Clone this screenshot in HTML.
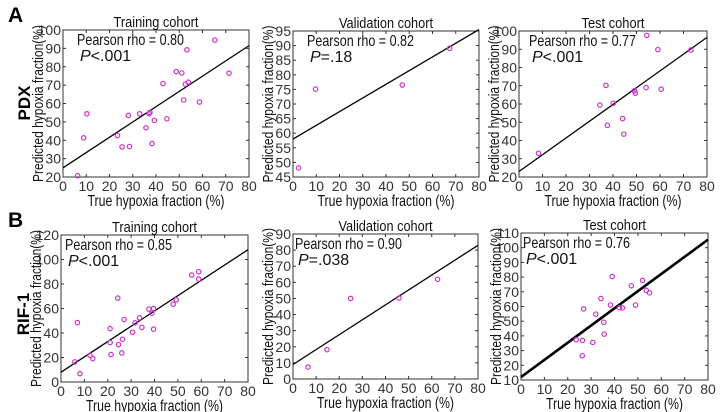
<!DOCTYPE html>
<html><head><meta charset="utf-8"><style>
body{margin:0;background:#fff;width:720px;height:412px;overflow:hidden}
svg{display:block;font-family:"Liberation Sans",Arial,sans-serif}
</style></head><body>
<svg id="fig" width="720" height="412" viewBox="0 0 720 412">
<text x="8" y="22" font-size="21" font-weight="bold">A</text>
<text x="8" y="227" font-size="21" font-weight="bold">B</text>
<text transform="translate(30,103) rotate(-90)" text-anchor="middle" font-size="17" font-weight="bold">PDX</text>
<text transform="translate(29,314) rotate(-90)" text-anchor="middle" font-size="17" font-weight="bold">RIF-1</text>
</svg>
<script>
// A1 PDX training
const a1X=[6.3,8.9,10.3,23.4,25.4,28.1,28.6,33,35.7,37,37.4,38.3,39.3,43,44.7,48.7,51.1,51.9,52.6,53.3,53.9,58.7,65.3,71.4];
const a1Y=[20.7,41.3,54.4,42.6,36.4,53.5,36.6,54.4,46.8,54.4,55.1,38.2,50.8,70.8,51.7,77.4,76.6,61.9,70.5,89.2,71.6,60.8,94.5,76.5];
const a1Fit=[25,91.5];
// A2 PDX validation
const a2X=[2.4,9.7,47,67.4];
const a2Y=[48.1,75.1,76.5,89.1];
const a2Fit=[58,95.5];
// A3 PDX test
const a3X=[8.3,34.4,37,37.6,40.1,44.1,44.6,49.1,49.5,54.4,54.1,59.1,60.5,73.2];
const a3Y=[33,59.4,70.2,48.3,60.4,52,43.5,67.2,65.9,97.6,69,89.8,68.1,89.6];
const a3Fit=[23,96.5];
// B1 RIF-1 training
const b1X=[5.9,7,8.1,12.4,13.6,21,21,21.4,24.3,24.6,26,26.3,27,30.6,31.7,33.6,34.6,37.6,38.9,39.6,39.6,48,49.3,55.9,58.9,58.9];
const b1Y=[16.4,48.5,6.8,21.8,19.1,43.6,32.2,22.4,68.5,30.5,23.7,34.9,51,40.6,48.3,52.4,44.5,59.5,56.2,60,43.1,63.5,67.1,87.3,90,84];
const b1Fit=[8,108];
// B2 RIF-1 validation
const b2X=[6.5,14.7,24.9,45.8,62.5];
const b2Y=[7.4,18.2,50,50.2,61.9];
const b2Fit=[9,83];
// B3 RIF-1 test
const b3X=[23.6,26.3,26.2,26.8,30.7,32,34.2,35.4,35.6,38.3,39,42.1,43.4,47.2,49,52,53.6,55];
const b3Y=[37.4,36.9,26.5,58.4,35.6,54.8,65.4,49.3,41.2,61,80.4,59.1,59.1,74.1,61,77.7,71,69.3];
const b3Fit=[12,105.5];
const xTicks=[0,10,20,30,40,50,60,70,80];

const NS="http://www.w3.org/2000/svg";
const svg=document.getElementById('fig');
function mk(tag,attrs,parent){const e=document.createElementNS(NS,tag);for(const k in attrs)e.setAttribute(k,attrs[k]);(parent||svg).appendChild(e);return e;}

const panels=[
 {id:'a1',L:63,T:30,W:186,H:147,y0:20,y1:100,yt:[20,30,40,50,60,70,80,90,100],title:'Training cohort',tw:85,rho:'0.80',p:'<.001',xs:a1X,ys:a1Y,fit:a1Fit,tx:14,lw:1.3},
 {id:'a2',L:293,T:31,W:186,H:146,y0:45,y1:95,yt:[45,50,55,60,65,70,75,80,85,90,95],title:'Validation cohort',tw:94,rho:'0.82',p:'=.18',xs:a2X,ys:a2Y,fit:a2Fit,tx:14,lw:1.3},
 {id:'a3',L:519,T:31,W:188,H:146,y0:20,y1:100,yt:[20,30,40,50,60,70,80,90,100],title:'Test cohort',tw:63,rho:'0.77',p:'<.001',xs:a3X,ys:a3Y,fit:a3Fit,tx:10,lw:1.3},
 {id:'b1',L:61,T:235,W:187,H:147,y0:0,y1:120,yt:[0,20,40,60,80,100,120],title:'Training cohort',tw:85,rho:'0.85',p:'<.001',xs:b1X,ys:b1Y,fit:b1Fit,tx:4,lw:1.3},
 {id:'b2',L:293,T:234,W:185,H:145,y0:0,y1:90,yt:[0,10,20,30,40,50,60,70,80,90],title:'Validation cohort',tw:94,rho:'0.90',p:'=.038',xs:b2X,ys:b2Y,fit:b2Fit,tx:2,lw:1.3},
 {id:'b3',L:521,T:233,W:187,H:147,y0:10,y1:110,yt:[10,20,30,40,50,60,70,80,90,100,110],title:'Test cohort',tw:63,rho:'0.76',p:'<.001',xs:b3X,ys:b3Y,fit:b3Fit,tx:2,lw:2.6}
];

panels.forEach(P=>{
 const g=mk('g',{});
 
 
 const sx=v=>P.L+v/80*P.W;
 const sy=v=>P.T+P.H-(v-P.y0)/(P.y1-P.y0)*P.H;
 const box=mk('rect',{x:P.L,y:P.T,width:P.W,height:P.H,fill:'#fff',stroke:'#333','stroke-width':1},g);
 
 
 xTicks.forEach(t=>{
  const x=sx(t);
  mk('line',{x1:x,x2:x,y1:P.T+P.H,y2:P.T+P.H-3,stroke:'#333'},g);
  mk('line',{x1:x,x2:x,y1:P.T,y2:P.T+3,stroke:'#333'},g);
  const tl=mk('text',{x:x,y:P.T+P.H+14,'text-anchor':'middle','font-size':14,fill:'#333'},g);
  tl.textContent=t;
  
  
 });
 P.yt.forEach(t=>{
  const y=sy(t);
  mk('line',{x1:P.L,x2:P.L+3,y1:y,y2:y,stroke:'#333'},g);
  mk('line',{x1:P.L+P.W,x2:P.L+P.W-3,y1:y,y2:y,stroke:'#333'},g);
  const tl=mk('text',{x:P.L-2,y:y+5,'text-anchor':'end','font-size':14,fill:'#333'},g);
  tl.textContent=t;
  
  
 });
 const fl=mk('line',{x1:sx(0),y1:sy(P.fit[0]),x2:sx(80),y2:sy(P.fit[1]),stroke:'#000','stroke-width':P.lw},g);
 
 
 P.xs.forEach((v,i)=>{
  const c=mk('circle',{cx:sx(v),cy:sy(P.ys[i]),r:2.2,fill:'none',stroke:'#cc33cc','stroke-width':1.2},g);
  
  
 });
 const ti=mk('text',{x:P.L+P.W/2,y:P.T-3,'text-anchor':'middle','font-size':15,fill:'#111',textLength:P.tw,lengthAdjust:'spacingAndGlyphs'},g);
 ti.textContent=P.title;
 
 
 const r=mk('text',{x:P.L+P.tx,y:P.T+15,'font-size':16,fill:'#111',textLength:107,lengthAdjust:'spacingAndGlyphs'},g);
 r.textContent='Pearson rho = '+P.rho;
 
 
 const p=mk('text',{x:P.L+P.tx+3,y:P.T+31,'font-size':16,fill:'#111'},g);
 const pi=mk('tspan',{'font-style':'italic'},p);pi.textContent='P';
 const pr=mk('tspan',{},p);pr.textContent=P.p;
 
 
 const xl=mk('text',{x:P.L+P.W/2,y:P.T+P.H+29,'text-anchor':'middle','font-size':16,fill:'#111',textLength:137,lengthAdjust:'spacingAndGlyphs'},g);
 xl.textContent='True hypoxia fraction (%)';
 
 
 const yl=mk('text',{transform:'translate('+(P.L-20)+','+(P.T+P.H/2)+') rotate(-90)','text-anchor':'middle','font-size':15,fill:'#111',textLength:157,lengthAdjust:'spacingAndGlyphs'},g);
 yl.textContent='Predicted hypoxia fraction(%)';
 
 
});
</script>
</body></html>
